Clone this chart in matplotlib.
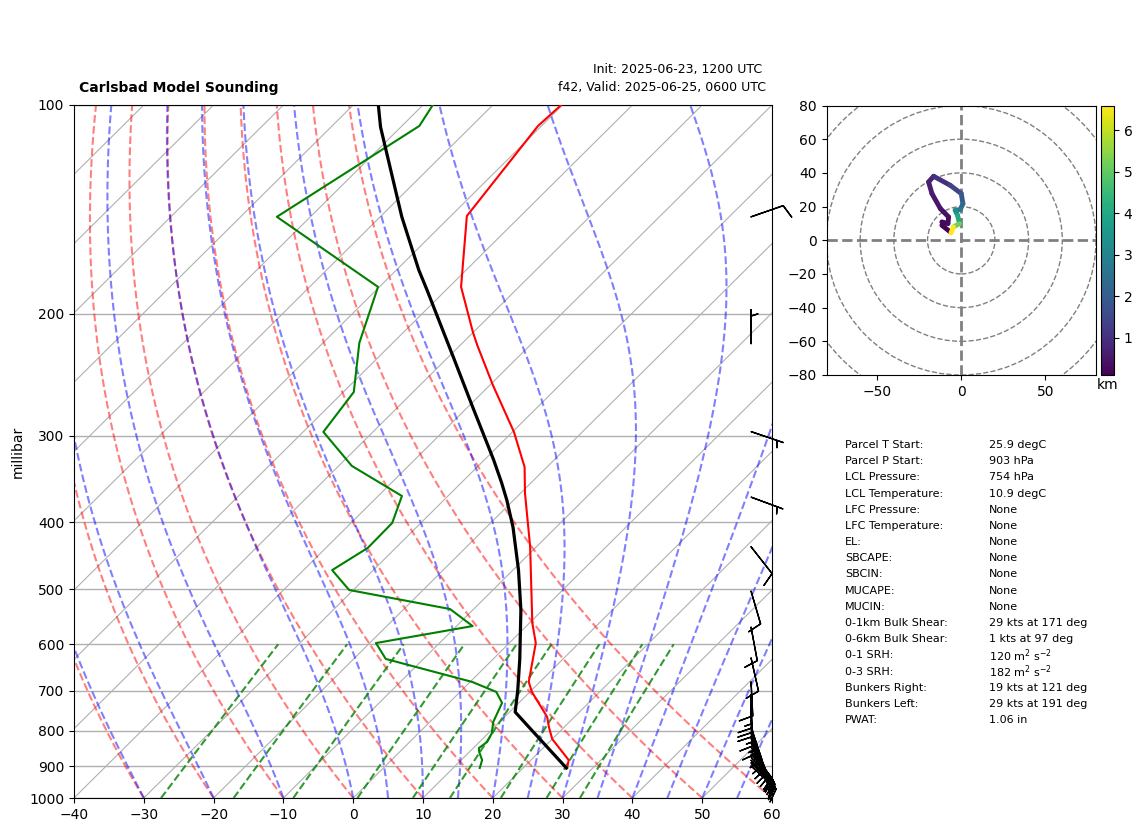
#%% SET_UP

import numpy as np
import matplotlib
matplotlib.use("Agg")
import matplotlib.pyplot as plt
from matplotlib.collections import LineCollection
from matplotlib.patches import Circle

#%% DATA

# temperature trace
p_temp = [100, 107.2, 144.6, 183, 212.6, 222, 253.5, 296.3, 333, 363, 434, 518, 559, 597.6, 680, 703, 764, 790, 822, 881.6, 905]
t_temp = [-70.2, -70.5, -67.7, -58.3, -50.1, -47.6, -39.6, -29.8, -23.2, -19.4, -10.9, -3.0, 0.4, 3.8, 8.4, 10.3, 16.1, 17.8, 20.0, 25.4, 26.3]

# dewpoint trace
p_dew = [100, 107.2, 145, 183, 220.4, 259.5, 296.3, 331.8, 366.6, 401, 435.6, 469, 501, 533.7, 564.8, 597.6, 630, 680, 703, 729, 777, 806, 830, 847, 858, 881.6, 905]
t_dew = [-88.6, -87.5, -94.8, -70.2, -64.8, -58.5, -57.1, -48.1, -36.6, -34.1, -34.0, -35.9, -30.6, -13.4, -7.7, -19.1, -15.4, 0.3, 5.2, 7.6, 9.1, 10.5, 11.1, 10.8, 11.4, 13.0, 13.8]

# parcel profile
p_parcel = [100, 107.6, 145, 173, 185, 231, 272.8, 325, 351, 371.5, 406.5, 469, 535.5, 630, 698.6, 751.5, 792.6, 905]
t_parcel = [-96.4, -92.9, -76.9, -66.8, -62.7, -49.3, -39.3, -28.7, -24.2, -21.0, -16.2, -9.2, -3.1, 3.8, 8.0, 10.8, 15.2, 26.2]

# wind barbs
p_barb = [145, 221, 296, 368, 434, 503, 567, 628, 680, 708, 729, 751, 772, 790, 806, 820, 833, 844, 855, 864, 873, 882, 890, 899]
u_barb = [-9.5, 0, -4.7, -4.6, -6.2, -2.8, -1.8, -2.2, -0.5, -0.3, -0.3, -1, -2, -5, -6, -7, -8, -9, -10, -11, -12, -12, -12, -12]
v_barb = [-3.3, -5, 1.6, 1.7, 7.9, 9.6, 9.7, 9.8, 10, 15, 20, 15, 15, 15, 15, 15, 15, 14, 13, 13, 13, 12, 12, 11]

# hodograph
u_hodo = [-6.5, -11.5, -11.5, -7.9, -7.5, -12.4, -17.4, -19.4, -16.4, -6.5, 0, 1, -0.6, -3.6, -2.2, -1, -4.6, -6.1]
v_hodo = [4.9, 8.9, 10.9, 9.9, 13.8, 18.8, 27.7, 34.6, 38, 32.6, 27.7, 21.7, 18.2, 17.8, 14.8, 9.9, 7.9, 4.3]
h_hodo = [0.1, 0.15, 0.2, 0.25, 0.3, 0.4, 0.5, 0.6, 0.7, 1.0, 1.4, 1.9, 2.4, 2.8, 3.2, 4.0, 5.2, 6.6]

# background lines, temperatures at 1000 hPa
dry_t0 = [-40, -30, -20, -10, 0, 10, 20, 30, 40, 50, 60]
moist_t0 = [-40, -30, -20, -10, 0, 5, 10, 15, 20, 25, 30, 35, 40, 45, 50, 55, 60]
mix_w = [0.0004, 0.001, 0.002, 0.004, 0.007, 0.01, 0.016, 0.024, 0.032]
iso_t = list(range(-140, 70, 10))

p_ticks = [100, 200, 300, 400, 500, 600, 700, 800, 900, 1000]
t_ticks = [-40, -30, -20, -10, 0, 10, 20, 30, 40, 50, 60]
hodo_rings = [20, 40, 60, 80, 100]

stat_names = ["Parcel T Start:", "Parcel P Start:", "LCL Pressure:", "LCL Temperature:", "LFC Pressure:",
              "LFC Temperature:", "EL:", "SBCAPE:", "SBCIN:", "MUCAPE:", "MUCIN:", "0-1km Bulk Shear:",
              "0-6km Bulk Shear:", "0-1 SRH:", "0-3 SRH:", "Bunkers Right:", "Bunkers Left:", "PWAT:"]
stat_values = ["25.9 degC", "903 hPa", "754 hPa", "10.9 degC", "None", "None", "None", "None", "None", "None", "None",
               "29 kts at 171 deg", "1 kts at 97 deg", r"120 m$^{2}$ s$^{-2}$", r"182 m$^{2}$ s$^{-2}$",
               "19 kts at 121 deg", "29 kts at 191 deg", "1.06 in"]

#%% HELPERS

W, H = 1142, 832

def px_axes(left, top, right, bottom):
    return [left/W, 1-bottom/H, (right-left)/W, (bottom-top)/H]

def skew(t, p):
    return np.asarray(t, dtype=float) + 100*np.log10(1000/np.asarray(p, dtype=float))

def moist_line(t0, p):
    # integrate the moist lapse rate upward from 1000 hPa
    out = [t0 + 273.15]
    for i in range(1, len(p)):
        tk = out[-1]
        es = 6.112*np.exp(17.67*(tk-273.15)/(tk-29.65))
        rs = 0.622*es/(p[i-1]-es)
        dt = (287.05*tk + 2.501e6*rs)/(1005 + 2.501e6**2*rs*0.622/(287.05*tk**2))
        out.append(tk + dt*np.log(p[i]/p[i-1]))
    return np.array(out) - 273.15

#%% SKEW-T

fig = plt.figure(figsize=(W/100, H/100), dpi=100)
ax = fig.add_axes(px_axes(74, 105, 772, 798))
ax.set_yscale("log")

p_lev = np.linspace(1000, 100, 181)

for t in iso_t:
    ax.plot(skew([t, t], [1000, 100]), [1000, 100], color="#b0b0b0", lw=0.8, zorder=1)
for t0 in dry_t0:
    t_line = (t0+273.15)*(p_lev/1000)**0.2857 - 273.15
    ax.plot(skew(t_line, p_lev), p_lev, color="r", ls="--", alpha=0.5, zorder=2)
for t0 in moist_t0:
    ax.plot(skew(moist_line(t0, p_lev), p_lev), p_lev, color="b", ls="--", alpha=0.5, zorder=2)
p_mix = np.linspace(1000, 600, 20)
for w in mix_w:
    lne = np.log(p_mix*w/(0.622+w)/6.112)
    ax.plot(skew(243.5*lne/(17.67-lne), p_mix), p_mix, color="g", ls="--", alpha=0.8, zorder=2)

ax.plot(skew(t_temp, p_temp), p_temp, color="r", zorder=4)
ax.plot(skew(t_dew, p_dew), p_dew, color="g", zorder=4)
ax.plot(skew(t_parcel, p_parcel), p_parcel, color="k", lw=2.3, zorder=4)

ax.barbs(np.full(len(p_barb), 0.97), p_barb, u_barb, v_barb, transform=ax.get_yaxis_transform(),
         clip_on=False, zorder=5, color="k", linewidth=1.0)

ax.set_xlim(-40, 60)
ax.set_ylim(1000, 100)
ax.set_xticks(t_ticks)
ax.set_yticks(p_ticks)
ax.set_yticklabels([str(p) for p in p_ticks])
ax.yaxis.set_minor_locator(plt.NullLocator())
ax.yaxis.grid(True, color="#b0b0b0", lw=1.0, zorder=1)
ax.set_axisbelow(True)
ax.set_ylabel("millibar", labelpad=3)

fig.text(79/W, 1-88/H, "Carlsbad Model Sounding", fontweight="bold", fontsize=10, ha="left", va="center")
fig.text(762/W, 1-70/H, "Init: 2025-06-23, 1200 UTC", fontsize=9, ha="right", va="center")
fig.text(766/W, 1-88/H, "f42, Valid: 2025-06-25, 0600 UTC", fontsize=9, ha="right", va="center")

#%% HODOGRAPH

hax = fig.add_axes(px_axes(826.5, 105.5, 1096, 375))
for r in hodo_rings:
    hax.add_patch(Circle((0, 0), r, fill=False, ec="grey", ls="--", lw=1.0))
hax.axhline(0, color="grey", ls="--", lw=2)
hax.axvline(0, color="grey", ls="--", lw=2)

pts = np.column_stack([u_hodo, v_hodo])
segs = np.stack([pts[:-1], pts[1:]], axis=1)
lc = LineCollection(segs, cmap="viridis", lw=3.5, capstyle="round")
lc.set_array(np.array(h_hodo[1:]))
lc.set_clim(0.1, 6.6)
hax.add_collection(lc)
hax.set_xlim(-80, 80)
hax.set_ylim(-80, 80)
hax.set_xticks([-50, 0, 50])
hax.set_yticks(range(-80, 81, 20))

cax = fig.add_axes(px_axes(1100.5, 105.5, 1114, 375))
cb = fig.colorbar(lc, cax=cax)
cb.set_ticks([1, 2, 3, 4, 5, 6])
cax.set_xlabel("km", labelpad=2)

#%% STATS TEXT

for i, (name, val) in enumerate(zip(stat_names, stat_values)):
    y = 445 + i*16.18
    fig.text(845/W, 1-y/H, name, fontsize=8, ha="left", va="center")
    fig.text(989/W, 1-y/H, val, fontsize=8, ha="left", va="center")

fig.savefig("out.png", dpi=100)
